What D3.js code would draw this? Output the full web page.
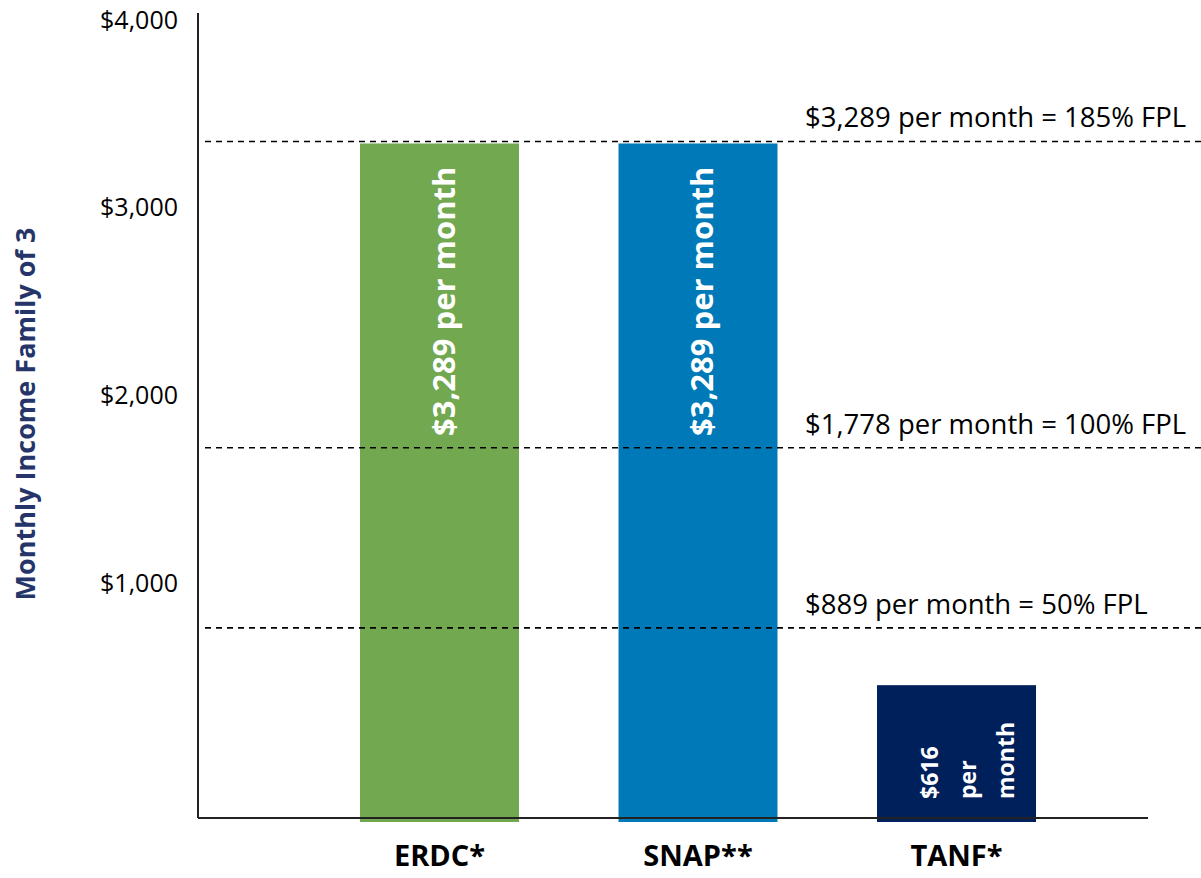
<!DOCTYPE html>
<html>
<head>
<meta charset="utf-8">
<script src="https://cdn.jsdelivr.net/npm/d3@7"></script>
<style>
  body { margin: 0; background: #fff; }
  svg { display: block; font-family: "Open Sans", sans-serif; }
</style>
</head>
<body>
<svg id="chart" width="1201" height="878"></svg>
<script>
// programs and their monthly income limits (family of 3)
const programs = ['ERDC*', 'SNAP**', 'TANF*'];
const limits = [3289, 3289, 616];
const barColors = ['#72a84f', '#0079b8', '#00205c'];
const barLabels = [['$3,289 per month'], ['$3,289 per month'], ['$616', 'per', 'month']];

// FPL reference lines
const fplValues = [3289, 1778, 889];
const fplLabels = ['$3,289 per month = 185% FPL', '$1,778 per month = 100% FPL', '$889 per month = 50% FPL'];

const yTicks = [1000, 2000, 3000, 4000];

const svg = d3.select('#chart');

const left = 198, right = 1148, base = 818;

let x = d3.scaleBand()
  .domain(programs)
  .range([360, 1036])
  .paddingInner(0.385)
  .paddingOuter(0);

let y = d3.scaleLinear()
  .domain([0, 4000])
  .range([810, -0.6]);

// tick labels sit on their own scale
let yLabel = d3.scaleLinear()
  .domain([0, 4000])
  .range([771, 20]);

// bars
svg.append('g')
  .selectAll('rect')
  .data(programs)
  .join('rect')
  .attr('x', d => x(d))
  .attr('width', x.bandwidth())
  .attr('y', (d, i) => y(limits[i]))
  .attr('height', (d, i) => base + 4 - y(limits[i]))
  .attr('fill', (d, i) => barColors[i]);

// axes lines
svg.append('line')
  .attr('x1', left).attr('x2', left)
  .attr('y1', 13).attr('y2', base)
  .attr('stroke', '#222').attr('stroke-width', 2);

svg.append('line')
  .attr('x1', left).attr('x2', right)
  .attr('y1', base).attr('y2', base)
  .attr('stroke', '#222').attr('stroke-width', 2);

// y tick labels
let yAxis = svg.append('g')
  .attr('transform', `translate(${left - 20},0)`)
  .call(d3.axisLeft(yLabel)
    .tickValues(yTicks)
    .tickSize(0)
    .tickPadding(0)
    .tickFormat(d => '$' + d3.format(',')(d)));

yAxis.select('.domain').remove();
yAxis.selectAll('text')
  .attr('font-size', 25)
  .attr('font-family', '"Open Sans", sans-serif')
  .attr('fill', '#000');

// dashed FPL lines
let fpl = svg.append('g')
  .selectAll('g')
  .data(fplValues)
  .join('g');

fpl.append('line')
  .attr('x1', 205).attr('x2', 1201)
  .attr('y1', d => y(d) - 2).attr('y2', d => y(d) - 2)
  .attr('stroke', '#000')
  .attr('stroke-width', 1.6)
  .attr('stroke-dasharray', '6,5');

fpl.append('text')
  .attr('x', 805)
  .attr('y', d => y(d) - 16)
  .attr('font-size', 27.5)
  .attr('fill', '#000')
  .text((d, i) => fplLabels[i]);

// rotated labels inside bars
programs.forEach((p, i) => {
  let lines = barLabels[i];
  let cx = x(p) + x.bandwidth() / 2;
  let big = lines.length === 1;
  let fs = big ? 31 : 23;
  let lh = big ? 0 : 38;
  let shift = big ? 4 : 11;
  let bottom = big ? 436 : 799;

  lines.forEach((t, j) => {
    let tx = cx + shift + (j - (lines.length - 1) / 2) * lh + fs * 0.36;
    svg.append('text')
      .attr('transform', `translate(${tx},${bottom}) rotate(-90)`)
      .attr('font-size', fs)
      .attr('font-weight', 700)
      .attr('fill', '#fff')
      .text(t);
  });
});

// category labels
svg.append('g')
  .selectAll('text')
  .data(programs)
  .join('text')
  .attr('x', d => x(d) + x.bandwidth() / 2)
  .attr('y', 866)
  .attr('text-anchor', 'middle')
  .attr('font-size', 29)
  .attr('font-weight', 700)
  .attr('fill', '#000')
  .text(d => d);

// y axis title
svg.append('text')
  .attr('transform', 'translate(35,414) rotate(-90)')
  .attr('text-anchor', 'middle')
  .attr('font-size', 27)
  .attr('font-weight', 700)
  .attr('fill', '#253569')
  .text('Monthly Income Family of 3');
</script>
</body>
</html>
